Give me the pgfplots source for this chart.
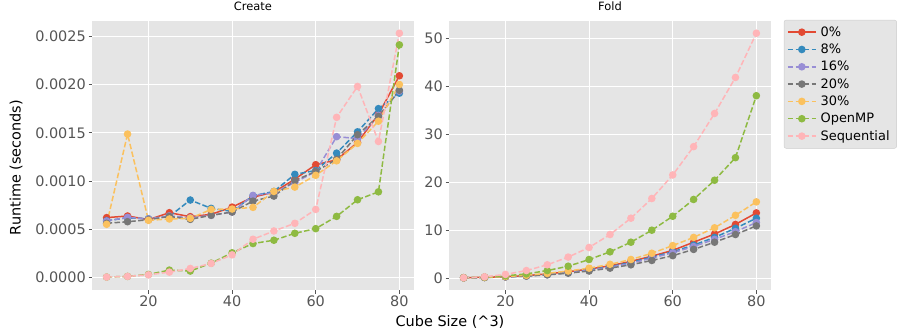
\documentclass[border=0pt]{standalone}
\usepackage{fontspec}
\setmainfont{DejaVu Sans}
\usepackage{pgfplots}
\usepackage{pgfplotstable}
\pgfplotsset{compat=1.18}
\definecolor{c0}{HTML}{E24A33}
\definecolor{c1}{HTML}{348ABD}
\definecolor{c2}{HTML}{988ED5}
\definecolor{c3}{HTML}{777777}
\definecolor{c4}{HTML}{FBC15E}
\definecolor{c5}{HTML}{8EBA42}
\definecolor{c6}{HTML}{FFB5B8}
\definecolor{bgc}{HTML}{E5E5E5}
\definecolor{tickc}{HTML}{555555}

\pgfplotstableread{
x p0 p8 p16 p20 p30 omp seq
10 0.000622 0.000590 0.000587 0.000563 0.000553 0.000007 0.000007
15 0.000639 0.000620 0.000625 0.000580 0.001487 0.000014 0.000014
20 0.000601 0.000610 0.000608 0.000600 0.000594 0.000034 0.000030
25 0.000673 0.000635 0.000640 0.000635 0.000608 0.000079 0.000058
30 0.000632 0.000804 0.000620 0.000604 0.000615 0.000069 0.000096
35 0.000656 0.000718 0.000646 0.000646 0.000707 0.000151 0.000148
40 0.000731 0.000687 0.000680 0.000680 0.000711 0.000258 0.000237
45 0.000834 0.000848 0.000852 0.000793 0.000728 0.000354 0.000398
50 0.000886 0.000893 0.000879 0.000845 0.000893 0.000388 0.000484
55 0.001020 0.001070 0.000986 0.001006 0.000938 0.000460 0.000563
60 0.001170 0.001110 0.001100 0.001100 0.001060 0.000508 0.000707
65 0.001220 0.001290 0.001460 0.001226 0.001210 0.000635 0.001660
70 0.001400 0.001510 0.001440 0.001480 0.001390 0.000807 0.001980
75 0.001690 0.001750 0.001680 0.001670 0.001620 0.000889 0.001410
80 0.002090 0.001910 0.001930 0.001940 0.002000 0.002410 0.002530
}\create

\pgfplotstableread{
x p0 p8 p16 p20 p30 omp seq
10 0.10 0.10 0.09 0.08 0.10 0.10 0.10
15 0.20 0.18 0.17 0.15 0.20 0.25 0.30
20 0.32 0.30 0.29 0.28 0.35 0.50 0.80
25 0.55 0.50 0.48 0.45 0.60 0.90 1.60
30 0.90 0.80 0.75 0.70 1.00 1.60 2.80
35 1.35 1.20 1.15 1.05 1.50 2.50 4.40
40 1.90 1.75 1.65 1.50 2.10 3.90 6.40
45 2.60 2.40 2.30 2.10 2.90 5.50 9.10
50 3.50 3.30 3.10 2.80 3.90 7.50 12.50
55 4.60 4.40 4.20 3.70 5.20 10.00 16.60
60 5.80 5.50 5.30 4.70 6.80 12.90 21.50
65 7.50 6.90 6.60 6.00 8.50 16.40 27.40
70 9.20 8.50 8.10 7.50 10.50 20.40 34.30
75 11.20 10.40 9.70 9.10 13.10 25.10 41.80
80 13.60 12.50 11.60 10.90 15.90 38.00 51.00
}\fold

\pgfplotsset{
  ds/.style={dash pattern=on 5.5bp off 2.4bp},
  s0/.style={c0, solid},
  s1/.style={c1, ds},
  s2/.style={c2, ds},
  s3/.style={c3, ds},
  s4/.style={c4, ds},
  s5/.style={c5, ds},
  s6/.style={c6, ds},
  myaxis/.style={
    scale only axis, width=322bp, height=269bp,
    xmin=6.5, xmax=83.5, xtick={20,40,60,80},
    axis background/.style={fill=bgc},
    grid=major, major grid style={white, line width=0.8bp, solid},
    axis line style={draw=none},
    xtick pos=bottom, ytick pos=left,
    tick align=outside, major tick length=3.5bp,
    tick style={color=tickc, line width=0.8bp, solid},
    ticklabel style={font=\fontsize{14.5}{17}\selectfont, text=tickc, inner sep=2.5bp},
    title style={at={(0.5,1)}, anchor=base, yshift=5bp, font=\fontsize{11.5}{13}\selectfont},
    /pgf/number format/assume math mode=true,
    every axis plot/.append style={line width=1.5bp, mark=*, mark size=3bp, mark options={solid}},
  },
}

\begin{document}
\begin{tikzpicture}[x=1bp,y=1bp]
\useasboundingbox (0,0) rectangle (900,335);
\begin{axis}[myaxis, at={(92bp,45bp)}, anchor=south west,
  title={Create},
  ymin=-0.000127, ymax=0.002657,
  ytick={0,0.0005,0.001,0.0015,0.002,0.0025},
  scaled y ticks=false,
  yticklabel style={/pgf/number format/.cd, fixed, fixed zerofill, precision=4},
]
\addplot[s0] table[x=x,y=p0]{\create};
\addplot[s1] table[x=x,y=p8]{\create};
\addplot[s2] table[x=x,y=p16]{\create};
\addplot[s3] table[x=x,y=p20]{\create};
\addplot[s4] table[x=x,y=p30]{\create};
\addplot[s5] table[x=x,y=omp]{\create};
\addplot[s6] table[x=x,y=seq]{\create};
\end{axis}
\begin{axis}[myaxis, at={(449bp,45bp)}, anchor=south west,
  title={Fold},
  ymin=-2.45, ymax=53.55,
  ytick={0,10,20,30,40,50},
  legend style={at={(1.04,1.004)}, anchor=north west, fill=bgc, draw=white!80!black,
    rounded corners=2bp, font=\fontsize{13}{15}\selectfont, row sep=1.2bp,
    inner xsep=3bp, inner ysep=4bp, cells={anchor=west},
    nodes={inner xsep=4bp, inner ysep=2.5bp}},
  legend image code/.code={\draw[mark repeat=2, mark phase=2, #1] plot coordinates {(0bp,0bp) (14bp,0bp) (28bp,0bp)};},
]
\addplot[s0] table[x=x,y=p0]{\fold};
\addplot[s1] table[x=x,y=p8]{\fold};
\addplot[s2] table[x=x,y=p16]{\fold};
\addplot[s3] table[x=x,y=p20]{\fold};
\addplot[s4] table[x=x,y=p30]{\fold};
\addplot[s5] table[x=x,y=omp]{\fold};
\addplot[s6] table[x=x,y=seq]{\fold};
\legend{0\%, 8\%, 16\%, 20\%, 30\%, OpenMP, Sequential}
\end{axis}
\node[font=\fontsize{14.5}{17}\selectfont, rotate=90] at (16,167.5) {Runtime (seconds)};
\node[font=\fontsize{14.5}{17}\selectfont] at (450,13) {Cube Size (\textasciicircum3)};
\end{tikzpicture}
\end{document}
